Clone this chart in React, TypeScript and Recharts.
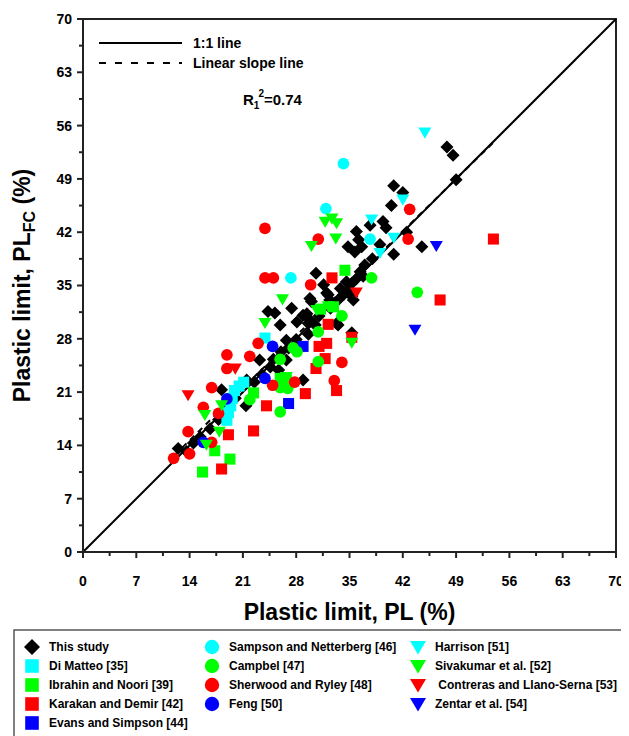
import React from 'react';
import { ScatterChart, Scatter, XAxis, YAxis, ReferenceLine, ReferenceArea } from 'recharts';

const FONT = "'Liberation Sans', Arial, sans-serif";

// axis ticks (major every 7, minor every 3.5)
const axisTicks = [0, 3.5, 7, 10.5, 14, 17.5, 21, 24.5, 28, 31.5, 35, 38.5, 42, 45.5, 49, 52.5, 56, 59.5, 63, 66.5, 70];

// reference lines
const oneToOne = [{ x: 0, y: 0 }, { x: 70, y: 70 }];
const slopeLine = [{ x: 12, y: 12.7 }, { x: 54, y: 53.9 }];

// [PL, PL_FC] pairs
const thisStudy = [
  [48.6, 52.1], [47.8, 53.2], [49.0, 48.9], [40.8, 48.1], [42.0, 47.2], [40.5, 45.5], [39.4, 43.4], [37.7, 42.9],
  [39.8, 42.6], [42.5, 42.0], [35.9, 42.1], [36.2, 41.0], [34.8, 40.1], [36.6, 40.1], [35.7, 39.4], [40.8, 39.1],
  [44.5, 40.1], [39.0, 40.4], [37.0, 37.7], [38.0, 38.5], [36.4, 36.8], [35.9, 35.9], [35.3, 35.3], [34.6, 35.5],
  [34.8, 34.4], [34.2, 33.8], [33.5, 33.1], [35.5, 33.1], [30.6, 36.6], [31.6, 35.1], [29.8, 33.3], [32.0, 34.0],
  [32.2, 33.8], [32.4, 33.1], [30.0, 32.9], [27.4, 32.0], [28.9, 31.1], [29.4, 31.3], [29.6, 30.0], [24.3, 31.6],
  [25.2, 31.4], [25.9, 29.8], [28.1, 30.2], [29.8, 30.5], [33.3, 30.0], [33.5, 29.8], [35.3, 28.8], [29.6, 28.6],
  [26.7, 27.8], [31.0, 31.0], [32.5, 32.0], [30.5, 29.8], [28.0, 27.9], [27.0, 26.8], [26.0, 26.3], [25.0, 25.3],
  [23.2, 25.2], [24.6, 24.3], [25.7, 23.9], [26.7, 25.2], [28.9, 22.6], [21.5, 22.6], [22.5, 22.3], [23.5, 23.3],
  [18.2, 21.3], [21.4, 19.2], [20.0, 20.2], [19.0, 19.0], [17.8, 17.4], [16.7, 16.2], [15.4, 15.1], [14.5, 14.3],
  [13.6, 13.2], [12.5, 13.6], [35.3, 33.6], [36.8, 36.2], [33.8, 34.6],
];
const diMatteo = [[21.1, 22.3], [20.5, 21.8], [19.9, 21.2], [19.6, 20.2], [19.4, 19.2], [19.1, 18.3], [18.9, 17.3], [23.9, 28.1]];
const ibrahin = [[15.7, 10.5], [19.3, 12.2], [17.3, 13.3], [22.4, 20.9], [25.9, 22.8], [26.7, 22.6], [32.9, 32.2], [34.4, 37.0], [31.2, 31.9]];
const karakan = [
  [18.2, 10.9], [19.1, 15.4], [22.4, 15.9], [24.1, 19.2], [29.2, 20.8], [33.3, 21.2], [30.6, 24.1], [31.8, 25.4],
  [32.0, 27.4], [31.0, 27.0], [32.2, 29.9], [32.7, 36.0], [35.3, 28.2], [46.9, 33.1], [53.9, 41.1],
];
const evans = [[27.0, 19.5], [28.9, 27.0]];
const sampson = [[34.2, 51.0], [31.9, 45.1], [27.3, 36.0], [37.7, 41.1]];
const campbel = [
  [43.9, 34.1], [37.9, 36.0], [34.0, 31.0], [30.9, 28.9], [30.9, 25.0], [27.6, 26.8], [28.1, 26.3], [25.9, 25.3],
  [25.9, 21.6], [26.9, 21.5], [25.9, 18.4], [21.9, 20.0],
];
const sherwood = [
  [23.9, 42.5], [30.9, 41.1], [42.9, 45.0], [42.7, 41.1], [23.9, 36.0], [25.0, 36.0], [29.9, 35.1], [34.0, 24.9],
  [33.0, 22.5], [23.0, 27.4], [18.9, 25.9], [18.9, 24.1], [21.9, 25.7], [16.9, 21.6], [15.8, 19.0], [17.8, 18.2],
  [13.8, 15.8], [16.9, 14.4], [14.0, 12.9], [11.9, 12.3], [24.9, 21.9], [27.8, 22.3],
];
const feng = [[18.9, 20.1], [15.8, 14.4], [23.9, 22.8], [24.9, 27.0]];
const harrison = [[44.9, 55.1], [42.0, 46.3], [37.9, 43.7], [40.8, 41.3], [39.0, 39.3]];
const sivakumar = [
  [31.8, 43.4], [32.7, 43.8], [33.3, 43.2], [33.2, 41.2], [30.0, 40.2], [26.2, 33.2], [23.9, 30.1], [35.3, 27.5],
  [26.7, 23.0], [18.2, 19.3], [16.0, 18.0], [17.9, 15.8], [16.2, 14.1], [30.7, 31.8], [32.2, 32.3],
];
const contreras = [[13.8, 20.6], [20.0, 24.1], [35.9, 34.1]];
const zentar = [[46.4, 40.2], [43.6, 29.2]];

const toPts = (arr: number[][]) => arr.map(([x, y]) => ({ x, y }));

const series = [
  { name: 'This study', data: thisStudy, color: '#000000', kind: 'diamond', col: 0, row: 0 },
  { name: 'Di Matteo [35]', data: diMatteo, color: '#00FFFF', kind: 'square', col: 0, row: 1 },
  { name: 'Ibrahin and Noori [39]', data: ibrahin, color: '#00FF00', kind: 'square', col: 0, row: 2 },
  { name: 'Karakan and Demir [42]', data: karakan, color: '#FF0000', kind: 'square', col: 0, row: 3 },
  { name: 'Evans and Simpson [44]', data: evans, color: '#0000FF', kind: 'square', col: 0, row: 4 },
  { name: 'Sampson and Netterberg [46]', data: sampson, color: '#00FFFF', kind: 'circle', col: 1, row: 0 },
  { name: 'Campbel [47]', data: campbel, color: '#00FF00', kind: 'circle', col: 1, row: 1 },
  { name: 'Sherwood and Ryley [48]', data: sherwood, color: '#FF0000', kind: 'circle', col: 1, row: 2 },
  { name: 'Feng [50]', data: feng, color: '#0000FF', kind: 'circle', col: 1, row: 3 },
  { name: 'Harrison [51]', data: harrison, color: '#00FFFF', kind: 'triangle', col: 2, row: 0 },
  { name: 'Sivakumar et al. [52]', data: sivakumar, color: '#00FF00', kind: 'triangle', col: 2, row: 1 },
  { name: ' Contreras and Llano-Serna [53]', data: contreras, color: '#FF0000', kind: 'triangle', col: 2, row: 2 },
  { name: 'Zentar et al. [54]', data: zentar, color: '#0000FF', kind: 'triangle', col: 2, row: 3 },
];

const Marker = ({ kind, color, cx, cy, s }: any) => {
  if (kind === 'diamond')
    return <polygon points={`${cx},${cy - s} ${cx + s},${cy} ${cx},${cy + s} ${cx - s},${cy}`} fill={color} />;
  if (kind === 'square')
    return <rect x={cx - s * 0.85} y={cy - s * 0.85} width={s * 1.7} height={s * 1.7} fill={color} />;
  if (kind === 'circle') return <circle cx={cx} cy={cy} r={s * 0.9} fill={color} />;
  return <polygon points={`${cx - s},${cy - s * 0.75} ${cx + s},${cy - s * 0.75} ${cx},${cy + s * 0.95}`} fill={color} />;
};

const XTick = ({ x, y, payload }: any) => {
  const major = payload.value % 7 === 0;
  return (
    <g>
      <line x1={x} x2={x} y1={y} y2={y + (major ? 6 : 4)} stroke="#222" strokeWidth={2} />
      {major && (
        <text x={x} y={y + 29} dy="0.35em" textAnchor="middle" fontFamily={FONT} fontWeight="bold" fontSize={14} fill="#000">
          {payload.value}
        </text>
      )}
    </g>
  );
};

const YTick = ({ x, y, payload }: any) => {
  const major = payload.value % 7 === 0;
  return (
    <g>
      <line x1={x - (major ? 6 : 4)} x2={x} y1={y} y2={y} stroke="#222" strokeWidth={2} />
      {major && (
        <text x={x - 11} y={y} dy="0.35em" textAnchor="end" fontFamily={FONT} fontWeight="bold" fontSize={14} fill="#000">
          {payload.value}
        </text>
      )}
    </g>
  );
};

const XTitle = ({ viewBox }: any) => (
  <text x={viewBox.x + viewBox.width / 2} y={viewBox.y + 60} dy="0.35em" textAnchor="middle" fontFamily={FONT} fontWeight="bold" fontSize={23} fill="#000">
    Plastic limit, PL (%)
  </text>
);

const YTitle = ({ viewBox }: any) => {
  const cx = viewBox.x + 14;
  const cy = viewBox.y + viewBox.height / 2;
  return (
    <text transform={`translate(${cx},${cy}) rotate(-90)`} textAnchor="middle" dy="0.35em" fontFamily={FONT} fontWeight="bold" fontSize={23} fill="#000">
      Plastic limit, PL<tspan fontSize={16} dy={5}>FC</tspan>
      <tspan dy={-5}> (%)</tspan>
    </text>
  );
};

const legendCols = [24, 204, 410];
const legendRows = [639, 658, 677, 696, 715];

export default function App() {
  return (
    <div style={{ position: 'relative', width: 621, height: 728, overflow: 'hidden', background: '#fff' }}>
      <ScatterChart width={621} height={728} margin={{ top: 11, right: 13, left: 0, bottom: 114 }}>
        <XAxis
          type="number"
          dataKey="x"
          domain={[0, 70]}
          ticks={axisTicks}
          interval={0}
          height={70}
          tickSize={0}
          tickMargin={0}
          tickLine={false}
          axisLine={{ stroke: '#222', strokeWidth: 2 }}
          tick={(p: any) => <XTick {...p} />}
          label={{ content: XTitle }}
        />
        <YAxis
          type="number"
          dataKey="y"
          domain={[0, 70]}
          ticks={axisTicks}
          interval={0}
          width={75}
          tickSize={0}
          tickMargin={0}
          tickLine={false}
          axisLine={{ stroke: '#222', strokeWidth: 2 }}
          tick={(p: any) => <YTick {...p} />}
          label={{ content: YTitle }}
        />
        <ReferenceArea x1={0} x2={70} y1={0} y2={70} fill="#fff" fillOpacity={0} stroke="#222" strokeWidth={2} />
        {series.map((s) => (
          <Scatter
            key={s.name}
            name={s.name}
            data={toPts(s.data)}
            isAnimationActive={false}
            shape={(p: any) => <Marker kind={s.kind} color={s.color} cx={p.cx} cy={p.cy} s={6.5} />}
          />
        ))}
        <ReferenceLine segment={oneToOne} stroke="#000" strokeWidth={2} />
        <ReferenceLine segment={slopeLine} stroke="#000" strokeWidth={2} strokeDasharray="6 5" />
      </ScatterChart>

      <svg width={621} height={728} style={{ position: 'absolute', left: 0, top: 0, pointerEvents: 'none' }}>
        <line x1={91} x2={174} y1={35} y2={35} stroke="#000" strokeWidth={2} />
        <text x={185} y={35} dy="0.35em" fontFamily={FONT} fontWeight="bold" fontSize={14}>1:1 line</text>
        <line x1={91} x2={174} y1={55} y2={55} stroke="#000" strokeWidth={2} strokeDasharray="7 9" />
        <text x={185} y={55} dy="0.35em" fontFamily={FONT} fontWeight="bold" fontSize={14}>Linear slope line</text>
        <text x={235} y={92} dy="0.35em" fontFamily={FONT} fontWeight="bold" fontSize={15}>
          R<tspan fontSize={10} dy={4}>1</tspan>
          <tspan fontSize={10} dx={-1} dy={-12}>2</tspan>
          <tspan dy={8}>=0.74</tspan>
        </text>

        <rect x={6} y={622} width={700} height={140} fill="none" stroke="#555" strokeWidth={1.5} />
        {series.map((s) => (
          <g key={s.name}>
            <Marker kind={s.kind} color={s.color} cx={legendCols[s.col]} cy={legendRows[s.row]} s={8} />
            <text x={legendCols[s.col] + 17} y={legendRows[s.row]} dy="0.35em" fontFamily={FONT} fontWeight="bold" fontSize={12} style={{ whiteSpace: 'pre' }}>
              {s.name}
            </text>
          </g>
        ))}
      </svg>
    </div>
  );
}
